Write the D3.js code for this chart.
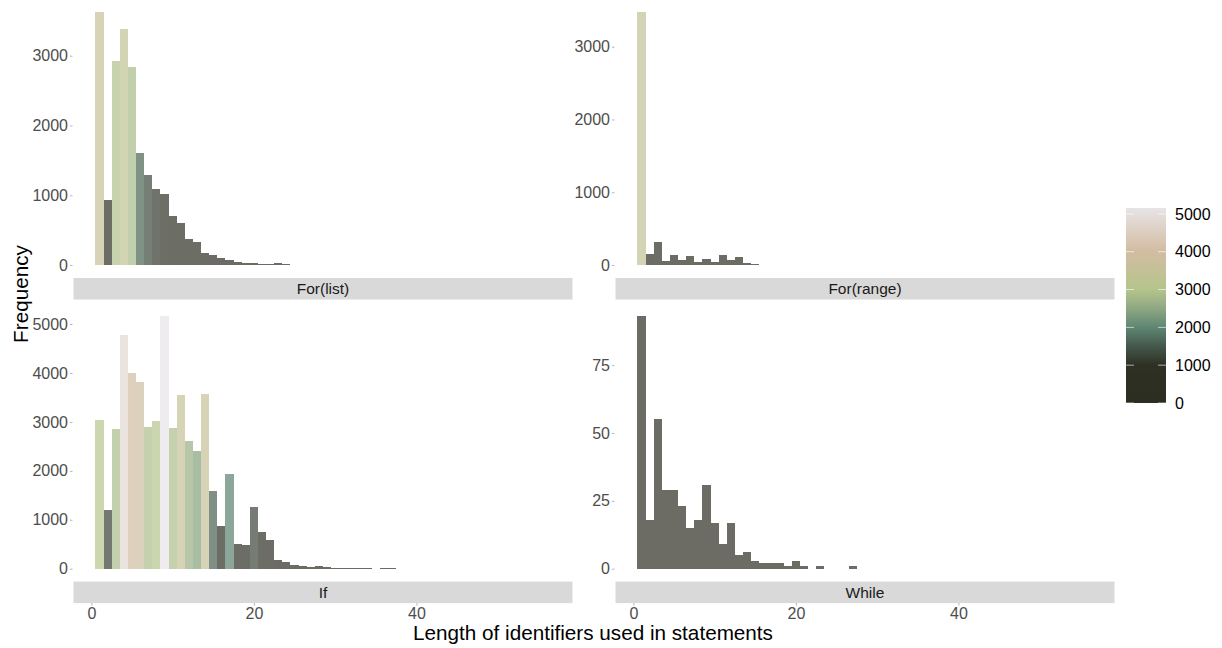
<!DOCTYPE html>
<html>
<head>
<meta charset="utf-8">
<script src="https://cdn.jsdelivr.net/npm/d3@7/dist/d3.min.js"></script>
<style>
  html, body { margin: 0; padding: 0; background: #ffffff; }
  svg { display: block; font-family: "Liberation Sans", Arial, sans-serif; }
</style>
</head>
<body>
<svg id="chart" width="1222" height="648"></svg>
<script>
// Histogram counts per identifier length (first entry = length 1)
const panelNames = ["For(list)", "For(range)", "If", "While"];
const forListCounts = [3631, 932, 2924, 3378, 2833, 1605, 1295, 1089, 1022, 707, 607, 373,
  325, 170, 141, 95, 70, 43, 35, 28, 16, 14, 26, 12];
const forRangeCounts = [3481, 151, 316, 60, 142, 75, 124, 46, 87, 46, 140, 69, 117, 32, 12];
const ifCounts = [3041, 1190, 2857, 4782, 3993, 3816, 2891, 3020, 5156, 2878, 3551, 2612,
  2401, 3571, 1592, 878, 1939, 510, 483, 1252, 750, 592, 170, 136, 85, 52, 28, 50, 42,
  20, 20, 5, 5, 5, 0, 12, 12];
const whileCounts = [93, 18, 55, 29, 29, 23, 15, 18, 31, 17, 9, 17, 5, 6, 3, 2, 2, 2, 1,
  3, 1, 0, 1, 0, 0, 0, 1];

// Axis breaks
const xTicks = [0, 20, 40];
const forListYTicks = [0, 1000, 2000, 3000];
const forRangeYTicks = [0, 1000, 2000, 3000];
const ifYTicks = [0, 1000, 2000, 3000, 4000, 5000];
const whileYTicks = [0, 25, 50, 75];
const legendTicks = [0, 1000, 2000, 3000, 4000, 5000];

// Fill gradient for counts
const fillStops = [0, 1000, 1500, 2000, 2500, 3000, 3500, 4000, 4500, 5156];
const fillColours = ["#2d2e22", "#2e3024", "#45584b", "#5e8673", "#8fa882", "#b5c48c",
  "#c4c196", "#d2bca2", "#dccdbf", "#e7e4e7"];

const svg = d3.select("#chart");
const FONT_TICK = 16, FONT_STRIP = 15.5, FONT_TITLE = 20.7;

const fill = d3.scaleLinear().domain(fillStops).range(fillColours)
  .interpolate(d3.interpolateRgb).clamp(true);

// Shared x scale across facets
const xDomain = [-2.2, 59.2];
const cols = [[73.5, 572.5], [615.5, 1114.5]];
const rows = [{ top: -1, bottom: 277.7 }, { top: 303.8, bottom: 581.3 }];
const stripH = 21.5;

const panels = [
  { name: panelNames[0], counts: forListCounts, yTicks: forListYTicks, col: 0, row: 0 },
  { name: panelNames[1], counts: forRangeCounts, yTicks: forRangeYTicks, col: 1, row: 0 },
  { name: panelNames[2], counts: ifCounts, yTicks: ifYTicks, col: 0, row: 1 },
  { name: panelNames[3], counts: whileCounts, yTicks: whileYTicks, col: 1, row: 1 }
];

panels.forEach(p => {
  const [x0, x1] = cols[p.col];
  const r = rows[p.row];
  const x = d3.scaleLinear().domain(xDomain).range([x0, x1]);
  const maxC = d3.max(p.counts);
  const y = d3.scaleLinear().domain([-0.05 * maxC, 1.05 * maxC]).range([r.bottom, r.top]);
  const g = svg.append("g");

  const bins = p.counts.map((c, i) => ({ len: i + 1, count: c })).filter(d => d.count > 0);
  g.selectAll("rect.bar").data(bins).enter().append("rect")
    .attr("class", "bar")
    .attr("x", d => x(d.len - 0.5))
    .attr("width", d => x(d.len + 0.5) - x(d.len - 0.5))
    .attr("y", d => y(d.count))
    .attr("height", d => y(0) - y(d.count))
    .attr("fill", d => fill(d.count))
    .attr("fill-opacity", 0.7)
    .attr("shape-rendering", "crispEdges");

  // y axis
  const yAxis = d3.axisLeft(y).tickValues(p.yTicks).tickSize(2.5).tickPadding(2)
    .tickFormat(d3.format("d"));
  const ya = g.append("g").attr("transform", `translate(${x0 - 1},0)`).call(yAxis);
  ya.select(".domain").remove();
  ya.selectAll("line").attr("stroke", "#b5b5b5");
  ya.selectAll("text").attr("fill", "#4d4d4d").style("font-size", FONT_TICK + "px")
    .style("font-family", "Liberation Sans, Arial, sans-serif");

  // strip below panel
  const sy = r.bottom + 0.3;
  g.append("rect").attr("x", x0).attr("y", sy).attr("width", x1 - x0).attr("height", stripH)
    .attr("fill", "#d9d9d9");
  g.append("text").attr("x", (x0 + x1) / 2).attr("y", sy + stripH / 2)
    .attr("dy", "0.36em").attr("text-anchor", "middle")
    .attr("fill", "#1a1a1a").style("font-size", FONT_STRIP + "px").text(p.name);

  // x axis on bottom row
  if (p.row === 1) {
    const xAxis = d3.axisBottom(x).tickValues(xTicks).tickSize(2.5).tickPadding(2);
    const xa = g.append("g").attr("transform", `translate(0,${sy + stripH})`).call(xAxis);
    xa.select(".domain").remove();
    xa.selectAll("line").attr("stroke", "#b5b5b5");
    xa.selectAll("text").attr("fill", "#4d4d4d").style("font-size", FONT_TICK + "px")
      .style("font-family", "Liberation Sans, Arial, sans-serif");
  }
});

// Axis titles
svg.append("text").attr("x", 593).attr("y", 640).attr("text-anchor", "middle")
  .attr("fill", "#000").style("font-size", FONT_TITLE + "px")
  .text("Length of identifiers used in statements");
svg.append("text").attr("transform", "translate(28,294) rotate(-90)")
  .attr("text-anchor", "middle").attr("fill", "#000").style("font-size", FONT_TITLE + "px")
  .text("Frequency");

// Colour bar legend
const lg = { x: 1126, w: 40, top: 208, bottom: 403 };
const ly = d3.scaleLinear().domain([0, 5156]).range([lg.bottom, lg.top]);
const defs = svg.append("defs");
const grad = defs.append("linearGradient").attr("id", "fillGrad")
  .attr("x1", 0).attr("y1", 1).attr("x2", 0).attr("y2", 0);
d3.range(0, 1.0001, 0.02).forEach(t => {
  grad.append("stop").attr("offset", t).attr("stop-color", fill(t * 5156));
});
svg.append("rect").attr("x", lg.x).attr("y", lg.top).attr("width", lg.w)
  .attr("height", lg.bottom - lg.top).attr("fill", "url(#fillGrad)");
const lt = svg.append("g");
legendTicks.forEach(v => {
  const yy = ly(v);
  lt.append("line").attr("x1", lg.x).attr("x2", lg.x + 8).attr("y1", yy).attr("y2", yy)
    .attr("stroke", "#ffffff").attr("stroke-opacity", 0.6);
  lt.append("line").attr("x1", lg.x + lg.w - 8).attr("x2", lg.x + lg.w).attr("y1", yy).attr("y2", yy)
    .attr("stroke", "#ffffff").attr("stroke-opacity", 0.6);
  lt.append("text").attr("x", lg.x + lg.w + 9).attr("y", yy).attr("dy", "0.36em")
    .attr("fill", "#000").style("font-size", FONT_TICK + "px").text(v);
});
</script>
</body>
</html>
